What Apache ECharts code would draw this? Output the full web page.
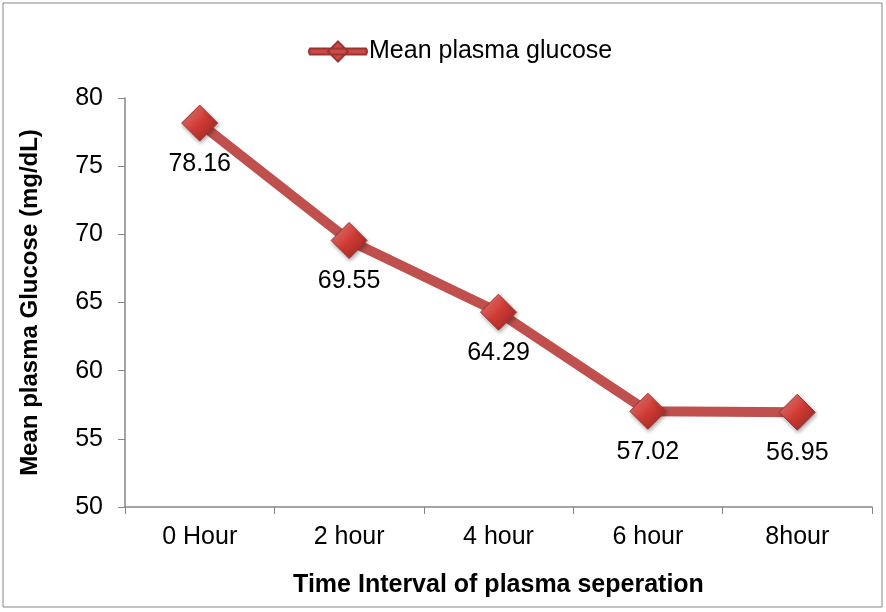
<!DOCTYPE html>
<html>
<head>
<meta charset="utf-8">
<script src="https://cdn.jsdelivr.net/npm/echarts@6/dist/echarts.min.js"></script>
<style>
    html, body { margin: 0; padding: 0; background: #fff; }
    #chart { width: 886px; height: 612px; }
</style>
</head>
<body>
<div id="chart"></div>
<script>
const categories = ['0 Hour', '2 hour', '4 hour', '6 hour', '8hour'];
const glucose = [78.16, 69.55, 64.29, 57.02, 56.95];
const seriesName = 'Mean plasma glucose';

const chart = echarts.init(document.getElementById('chart'));
const font = 'Liberation Sans, Arial, sans-serif';
const axisGrey = '#868686';

const markerColor = new echarts.graphic.LinearGradient(0, 0, 1, 1, [
    { offset: 0, color: '#f08a86' },
    { offset: 0.5, color: '#d03a34' },
    { offset: 1, color: '#8e2522' }
]);

// legend icon: thick line with a diamond in the middle
const legendIcon = 'path://M2,7 L58,7 Q60,10 58,13 L2,13 Q0,10 2,7 Z M30,0 L40,10 L30,20 L20,10 Z';

chart.setOption({
    animation: false,
    textStyle: { fontFamily: font },
    graphic: [{
        type: 'rect',
        shape: { x: 3, y: 3, width: 879, height: 604 },
        style: { fill: 'none', stroke: '#868686', lineWidth: 1 },
        silent: true
    }],
    legend: {
        top: 34,
        left: 303,
        itemWidth: 60,
        itemHeight: 20,
        itemGap: 4,
        textStyle: { fontSize: 25, color: '#000', fontFamily: font, padding: [0, 0, 0, -4] },
        data: [{ name: seriesName, icon: legendIcon, itemStyle: { color: '#c94a46' } }]
    },
    grid: { left: 125, right: 14, top: 98, bottom: 105 },
    xAxis: {
        type: 'category',
        data: categories,
        boundaryGap: true,
        name: 'Time Interval of plasma seperation',
        nameLocation: 'middle',
        nameGap: 66,
        nameTextStyle: { fontSize: 25, fontWeight: 'bold', color: '#000' },
        axisLine: { lineStyle: { color: axisGrey, width: 1.5 } },
        axisTick: { show: true, alignWithLabel: false, length: 7, lineStyle: { color: axisGrey } },
        axisLabel: { fontSize: 25, color: '#000', margin: 18 }
    },
    yAxis: {
        type: 'value',
        min: 50,
        max: 80,
        interval: 5,
        name: 'Mean plasma Glucose (mg/dL)',
        nameLocation: 'middle',
        nameGap: 83,
        nameTextStyle: { fontSize: 24, fontWeight: 'bold', color: '#000' },
        axisLine: { show: true, lineStyle: { color: axisGrey, width: 1.5 } },
        axisTick: { show: true, length: 7, lineStyle: { color: axisGrey } },
        splitLine: { show: false },
        axisLabel: { fontSize: 25, color: '#000', margin: 22 }
    },
    series: [{
        name: seriesName,
        type: 'line',
        data: glucose,
        symbol: 'diamond',
        symbolSize: 36,
        lineStyle: { color: '#c0504d', width: 10 },
        itemStyle: {
            color: markerColor,
            borderColor: '#9e3431',
            borderWidth: 1,
            shadowColor: 'rgba(0,0,0,0.35)',
            shadowBlur: 4,
            shadowOffsetX: 1,
            shadowOffsetY: 2
        },
        label: {
            show: true,
            position: 'bottom',
            distance: 10,
            fontSize: 25,
            color: '#000',
            formatter: function (p) { return p.value.toFixed(2); }
        }
    }]
});
</script>
</body>
</html>
